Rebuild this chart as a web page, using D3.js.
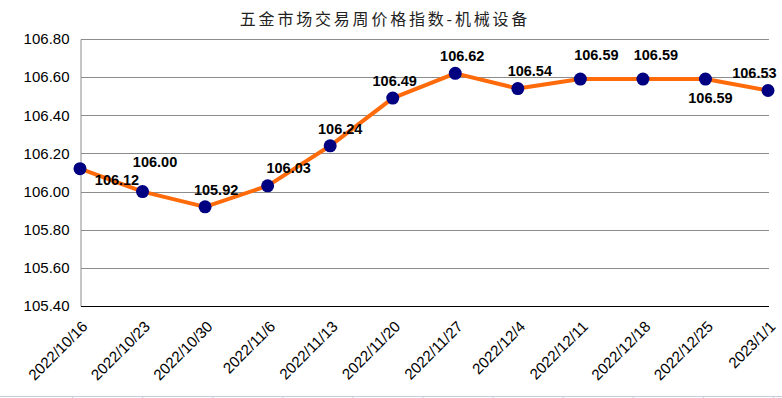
<!DOCTYPE html>
<html><head><meta charset="utf-8">
<script src="https://cdn.jsdelivr.net/npm/d3@7"></script>
<style>body{margin:0;background:#fff}svg{display:block}</style>
</head><body>
<script>
const title = "五金市场交易周价格指数-机械设备";
const categories = ["2022/10/16","2022/10/23","2022/10/30","2022/11/6","2022/11/13","2022/11/20","2022/11/27","2022/12/4","2022/12/11","2022/12/18","2022/12/25","2023/1/1"];
const values = [106.12,106.00,105.92,106.03,106.24,106.49,106.62,106.54,106.59,106.59,106.59,106.53];
const yTicks = [105.40,105.60,105.80,106.00,106.20,106.40,106.60,106.80];
// label placement offsets (layout only)
const labelDx = [37,12.5,11,21,10,2,7,12,16,13,5,-13.6];
const labelDy = [11,-30,-17,-18,-17,-17,-17.5,-18,-24,-24,19,-18];

const W = 782, H = 398;
const svg = d3.select("body").append("svg").attr("width", W).attr("height", H);
const pL = 81, pR = 769, pT = 39, pB = 306;

const x = d3.scalePoint().domain(categories).range([80, 768]);
const y = d3.scaleLinear().domain([105.4, 106.8]).range([pB, pT]);

// gridlines
svg.append("g").selectAll("line").data(yTicks.slice(1)).join("line")
  .attr("x1", pL).attr("x2", pR)
  .attr("y1", d => Math.round(y(d)) + 0.5).attr("y2", d => Math.round(y(d)) + 0.5)
  .attr("stroke", "#8c8c8c").attr("stroke-width", 1);

// y axis
const yAxis = d3.axisLeft(y).tickValues(yTicks).tickFormat(d3.format(".2f")).tickSize(0).tickPadding(10);
const gy = svg.append("g").attr("transform", `translate(${pL - 0.5},0)`).call(yAxis);
gy.select(".domain").attr("stroke", "#8c8c8c");
gy.selectAll("text").attr("font-family", "Liberation Sans, Arial, sans-serif").attr("font-size", 15)
  .attr("fill", "#000").attr("dx", -1);

// x axis
const xAxis = d3.axisBottom(x).tickSize(0).tickPadding(0);
const gx = svg.append("g").attr("transform", `translate(0,${pB + 0.5})`).call(xAxis);
gx.select(".domain").attr("stroke", "#000").attr("d", `M${pL},0H${pR}`);
gx.selectAll("text")
  .attr("font-family", "Liberation Sans, Arial, sans-serif").attr("font-size", 15.2).attr("fill", "#000")
  .attr("text-anchor", "end").attr("dy", null).attr("y", null)
  .attr("transform", "translate(8,21) rotate(-45)");

// title
svg.append("text").attr("x", 385).attr("y", 25).attr("text-anchor", "middle")
  .attr("font-family", "Noto Sans CJK SC, sans-serif").attr("font-size", 16)
  .attr("letter-spacing", 2.8).attr("fill", "#222").text(title);

// line
svg.append("path").datum(values)
  .attr("d", d3.line().x((d, i) => x(categories[i])).y(d => y(d)))
  .attr("fill", "none").attr("stroke", "#ff6a0a").attr("stroke-width", 4).attr("stroke-linejoin", "round");

// markers
svg.append("g").selectAll("circle").data(values).join("circle")
  .attr("cx", (d, i) => x(categories[i])).attr("cy", d => y(d)).attr("r", 6.5)
  .attr("fill", "#000080");

// data labels
svg.append("g").selectAll("text").data(values).join("text")
  .attr("x", (d, i) => x(categories[i]) + labelDx[i])
  .attr("y", (d, i) => y(d) + labelDy[i])
  .attr("dy", "0.36em").attr("text-anchor", "middle")
  .attr("font-family", "Liberation Sans, Arial, sans-serif").attr("font-size", 14.5).attr("font-weight", "bold")
  .attr("fill", "#000").text(d => d.toFixed(2));

// bottom faint sheet line
const sheet = svg.append("g").attr("stroke", "#c6ccd8");
sheet.append("line").attr("x1", 0).attr("x2", W).attr("y1", 396.5).attr("y2", 396.5);
sheet.selectAll("line.t").data(d3.range(0, 11)).join("line").attr("class", "t")
  .attr("x1", d => 72.5 + d * 70.1).attr("x2", d => 72.5 + d * 70.1).attr("y1", 396).attr("y2", 398);
</script>
</body></html>
